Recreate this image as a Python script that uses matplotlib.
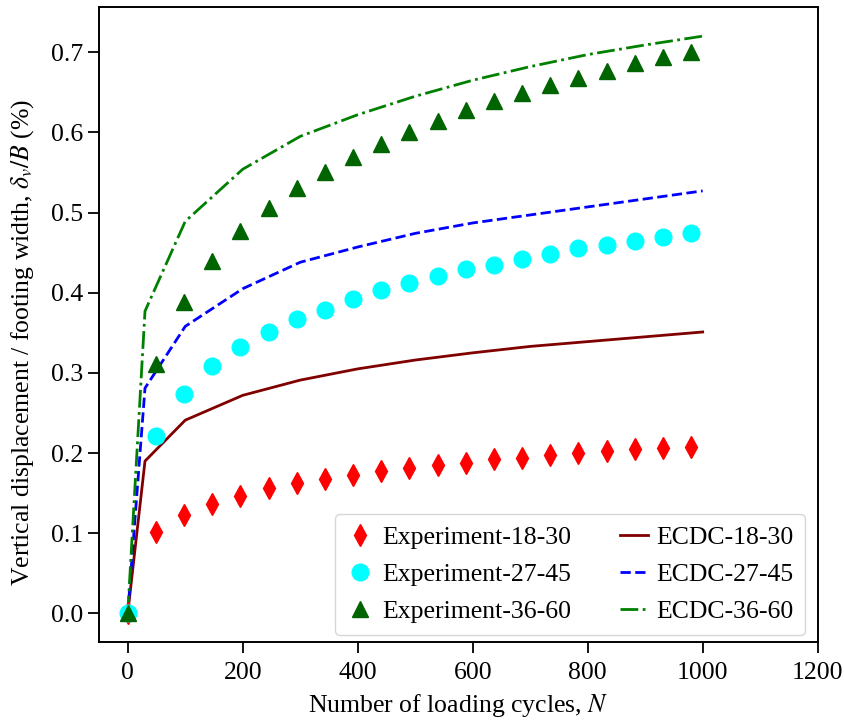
import matplotlib
matplotlib.use("Agg")
import matplotlib.pyplot as plt

plt.rcParams['font.family'] = ['Liberation Serif', 'DejaVu Serif']
plt.rcParams['mathtext.fontset'] = 'stix'
plt.rcParams['font.size'] = 18.5

# experiment cycles
n_exp = [0, 49, 98, 147, 196, 245, 294, 343, 392, 441, 490,
         539, 588, 637, 686, 735, 784, 833, 882, 931, 980]

exp_18_30 = [0.0, 0.102, 0.123, 0.137, 0.147, 0.156, 0.163, 0.168, 0.173, 0.178, 0.181,
             0.185, 0.188, 0.192, 0.194, 0.197, 0.200, 0.202, 0.205, 0.206, 0.208]
exp_27_45 = [0.0, 0.221, 0.274, 0.308, 0.332, 0.351, 0.367, 0.379, 0.392, 0.403, 0.412,
             0.421, 0.429, 0.435, 0.442, 0.448, 0.456, 0.460, 0.465, 0.470, 0.475]
exp_36_60 = [0.0, 0.311, 0.389, 0.440, 0.477, 0.506, 0.531, 0.551, 0.569, 0.586, 0.601,
             0.614, 0.628, 0.639, 0.649, 0.659, 0.668, 0.677, 0.686, 0.694, 0.700]

# ECDC model
n_ecdc = [0, 30, 100, 200, 300, 400, 500, 600, 700, 800, 900, 1000]
ecdc_18_30 = [0.0, 0.190, 0.241, 0.272, 0.291, 0.305, 0.316, 0.325, 0.333, 0.339, 0.345, 0.351]
ecdc_27_45 = [0.0, 0.281, 0.358, 0.405, 0.438, 0.457, 0.474, 0.487, 0.497, 0.507, 0.517, 0.527]
ecdc_36_60 = [0.0, 0.377, 0.489, 0.554, 0.595, 0.622, 0.645, 0.665, 0.682, 0.697, 0.709, 0.720]

fig = plt.figure(figsize=(8.44, 7.21), dpi=100)
ax = fig.add_axes([0.1173, 0.1092, 0.8515, 0.8807])

ax.plot(n_exp, exp_18_30, 'd', color='red', ms=11, label='Experiment-18-30', zorder=3)
ax.plot(n_exp, exp_27_45, 'o', color='cyan', ms=12, label='Experiment-27-45', zorder=3)
ax.plot(n_exp, exp_36_60, '^', color='darkgreen', ms=12, label='Experiment-36-60', zorder=3)
ax.plot(n_ecdc, ecdc_18_30, '-', color='#800000', lw=2, label='ECDC-18-30')
ax.plot(n_ecdc, ecdc_27_45, '--', color='blue', lw=2, label='ECDC-27-45')
ax.plot(n_ecdc, ecdc_36_60, '-.', color='green', lw=2, label='ECDC-36-60')

ax.set_xlim(-50, 1200)
ax.set_xticks([0, 200, 400, 600, 800, 1000, 1200])
ax.set_yticks([0.0, 0.1, 0.2, 0.3, 0.4, 0.5, 0.6, 0.7])
ax.set_xlabel('Number of loading cycles, $N$', labelpad=6)
ax.set_ylabel(r'Vertical displacement / footing width, $\delta_v/B$ (%)')
ax.yaxis.set_label_coords(-0.087, 0.473)
ax.tick_params(length=8, width=1.3)
ax.tick_params(axis='x', pad=6)
for s in ax.spines.values():
    s.set_linewidth(1.4)

ax.legend(loc='lower right', bbox_to_anchor=(0.982, 0.012), borderaxespad=0,
          ncol=2, numpoints=1, handlelength=1.1, columnspacing=1.9,
          handletextpad=0.3, borderpad=0.45, labelspacing=0.55)

fig.savefig('out.png', dpi=100)
